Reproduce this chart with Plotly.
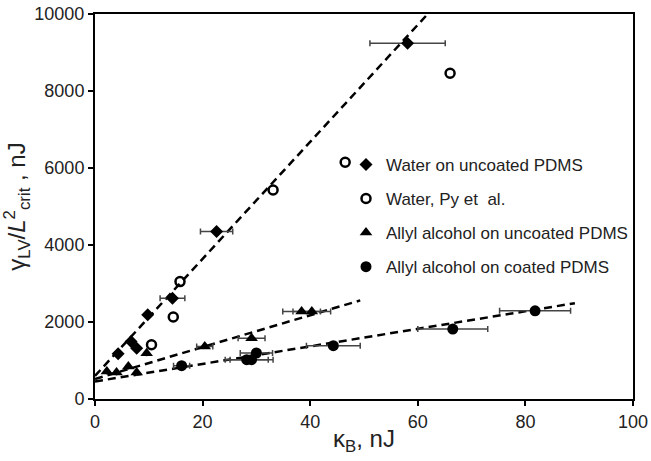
import plotly.graph_objects as go

# ---- data ----
water_x = [58.1, 22.6, 14.4, 9.8, 6.7, 7.75, 4.3]
water_y = [9240, 4350, 2620, 2190, 1495, 1320, 1175]
water_err = [7.0, 3.0, 2.3, None, None, None, None]

py_x = [66.0, 46.5, 33.1, 15.8, 14.55, 10.5]
py_y = [8460, 6150, 5430, 3050, 2130, 1410]

allyl_unc_x = [38.4, 40.3, 29.1, 20.4, 9.6, 6.2, 7.75, 2.2, 4.0]
allyl_unc_y = [2275, 2275, 1580, 1365, 1190, 846, 690, 716, 690]
allyl_unc_err = [3.5, 3.5, 2.5, 1.5, None, None, None, None, None]

allyl_coat_x = [81.8, 66.5, 44.3, 30.0, 28.2, 29.1, 16.1]
allyl_coat_y = [2290, 1815, 1385, 1195, 1020, 1020, 865]
allyl_coat_err = [6.6, 6.5, 5.0, 3.0, 4.0, 4.0, 1.5]

x_ticks = [0, 20, 40, 60, 80, 100]
y_ticks = [0, 2000, 4000, 6000, 8000, 10000]

# linear fits: intercept, slope, x-extent
fit_water = (600, 152.0, 0, 61.5)
fit_unc = (520, 41.4, 0, 49.3)
fit_coat = (455, 22.8, 0, 89.2)

FONT = "Arial, Liberation Sans, sans-serif"
ERR = dict(type="data", symmetric=True, color="#444444", thickness=1.5, width=3)

fig = go.Figure()

for (b, m, x0, x1) in [fit_water, fit_unc, fit_coat]:
    fig.add_trace(go.Scatter(x=[x0, x1], y=[b + m * x0, b + m * x1], mode="lines",
                             line=dict(color="black", width=2.5, dash="8px,5px"),
                             showlegend=False, hoverinfo="skip"))

fig.add_trace(go.Scatter(x=water_x, y=water_y, mode="markers", name="Water on uncoated PDMS",
                         legendgroup="a",
                         marker=dict(symbol="diamond", size=10, color="black"),
                         error_x=dict(array=water_err, **ERR)))
fig.add_trace(go.Scatter(x=py_x, y=py_y, mode="markers", name="Water, Py et  al.",
                         legendgroup="b",
                         marker=dict(symbol="circle-open", size=9, color="black",
                                     line=dict(width=2.5, color="black"))))
fig.add_trace(go.Scatter(x=allyl_unc_x, y=allyl_unc_y, mode="markers",
                         name="Allyl alcohol on uncoated PDMS", legendgroup="c",
                         marker=dict(symbol="triangle-up", size=11, color="black"),
                         error_x=dict(array=allyl_unc_err, **ERR)))
fig.add_trace(go.Scatter(x=allyl_coat_x, y=allyl_coat_y, mode="markers",
                         name="Allyl alcohol on coated PDMS", legendgroup="d",
                         marker=dict(symbol="circle", size=11, color="black"),
                         error_x=dict(array=allyl_coat_err, **ERR)))

axis_common = dict(showgrid=False, zeroline=False, showline=True, linecolor="black",
                   linewidth=2, mirror=True, ticks="outside", ticklen=5, tickwidth=2,
                   tickcolor="black", automargin=False, ticklabeloverflow="allow",
                   tickfont=dict(family=FONT, size=18, color="#222"))

fig.update_layout(
    width=651, height=461, autosize=False,
    margin=dict(l=95, r=18, t=14, b=62),
    paper_bgcolor="white", plot_bgcolor="white",
    font=dict(family=FONT, color="#222"),
    xaxis=dict(range=[0, 100], tickmode="array", tickvals=x_ticks,
               ticktext=[str(v) for v in x_ticks], **axis_common,
               title=dict(text="κ<sub>B</sub>, nJ", font=dict(family=FONT, size=24), standoff=0)),
    yaxis=dict(range=[0, 10000], tickmode="array", tickvals=y_ticks,
               ticktext=[str(v) for v in y_ticks], **axis_common,
               title=dict(text="γ<sub>LV</sub>/<i>L</i><sup>2</sup><sub>crit</sub> , nJ",
                          font=dict(family=FONT, size=24), standoff=2)),
    legend=dict(x=1.0, y=0.655, xanchor="right", yanchor="top",
                bgcolor="rgba(0,0,0,0)", font=dict(family=FONT, size=17, color="#222"),
                traceorder="grouped", tracegroupgap=9, itemwidth=30),
    showlegend=True,
)

fig.write_html(
    "out.html",
    config={"responsive": False, "displayModeBar": False},
    post_script="document.body.style.margin='0';document.body.style.padding='0';"
                "document.body.style.overflow='hidden';"
                "document.documentElement.style.overflow='hidden';",
)
